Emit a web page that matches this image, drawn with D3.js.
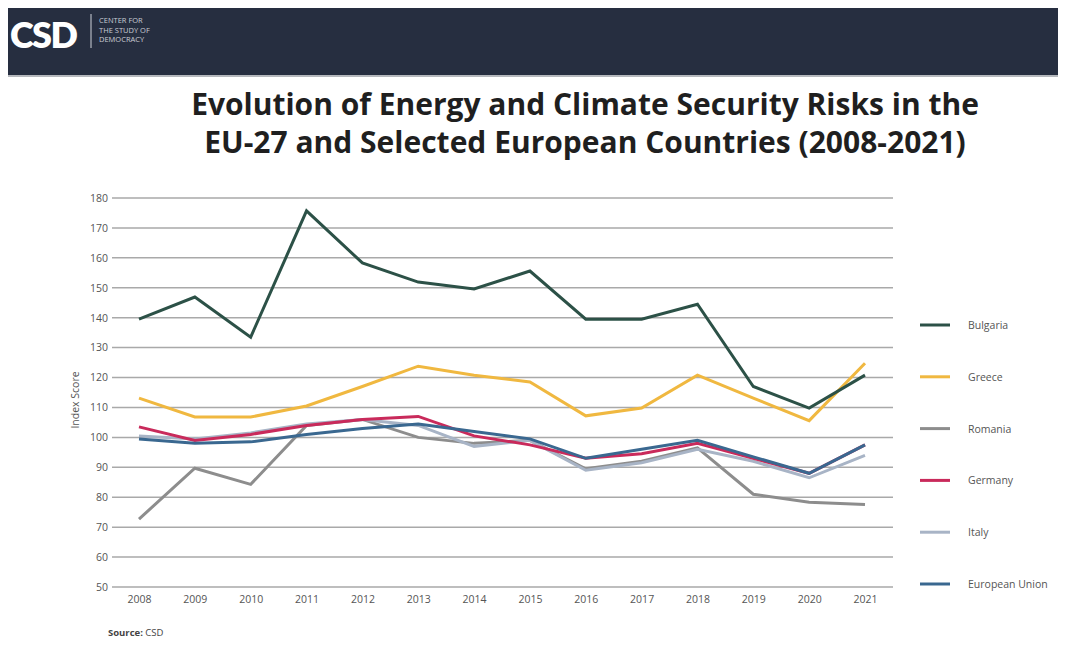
<!DOCTYPE html>
<html>
<head>
<meta charset="utf-8">
<script src="https://cdn.jsdelivr.net/npm/d3@7"></script>
<style>
  body { margin: 0; background: #fff; }
  svg { display: block; font-family: "Open Sans", sans-serif; }
</style>
</head>
<body>
<svg id="chart" width="1067" height="650"></svg>
<script>
// data
const years = [2008, 2009, 2010, 2011, 2012, 2013, 2014, 2015, 2016, 2017, 2018, 2019, 2020, 2021];
const yTicks = [50, 60, 70, 80, 90, 100, 110, 120, 130, 140, 150, 160, 170, 180];
const countries = ["Bulgaria", "Greece", "Romania", "Germany", "Italy", "European Union"];
const colors = ["#2c5147", "#f0b840", "#8d8d8d", "#c92a5b", "#a8b4c6", "#3a6890"];

const bulgaria = [139.5, 146.9, 133.5, 175.7, 158.3, 151.9, 149.6, 155.6, 139.5, 139.5, 144.5, 117, 109.8, 120.8];
const greece   = [113.1, 106.8, 106.8, 110.5, 117.0, 123.8, 120.8, 118.5, 107.2, 109.8, 120.8, 113.1, 105.6, 124.8];
const romania  = [72.7, 89.7, 84.3, 104, 106, 100, 98, 99, 89.5, 92, 96.5, 81, 78.3, 77.6];
const germany  = [103.5, 99, 101, 104, 106, 107, 100.5, 97.5, 93, 94.5, 98, 93, 88, 97.5];
const italy    = [100.5, 99.5, 101.5, 104.5, 106, 104, 97, 99, 89, 91.5, 96, 92, 86.5, 94];
const eu       = [99.5, 98, 98.5, 101, 103, 104.5, 102, 99.5, 93, 96, 99, 93.5, 88, 97.5];

const seriesValues = [bulgaria, greece, romania, germany, italy, eu];

const svg = d3.select("#chart");

// header band
svg.append("rect").attr("x", 8).attr("y", 8).attr("width", 1050).attr("height", 67).attr("fill", "#262e40");
svg.append("rect").attr("x", 8).attr("y", 75).attr("width", 1050).attr("height", 2).attr("fill", "#b5b8bd");
svg.append("text").attr("x", 10).attr("y", 48)
   .attr("fill", "#fff").attr("font-size", 36).attr("font-weight", 800)
   .attr("font-family", "Lato, sans-serif").attr("letter-spacing", -1.5).text("CSD");
svg.append("line").attr("x1", 91).attr("x2", 91).attr("y1", 14).attr("y2", 48)
   .attr("stroke", "#cfd3da").attr("stroke-width", 1);
["CENTER FOR", "THE STUDY OF", "DEMOCRACY"].forEach(function (t, i) {
  svg.append("text").attr("x", 99).attr("y", 23 + i * 9.5)
     .attr("fill", "#c8ccd4").attr("font-size", 7.5).text(t);
});

// title
const title = svg.append("text").attr("text-anchor", "middle")
   .attr("fill", "#1f1f1f").attr("font-size", 30).attr("font-weight", 700);
title.append("tspan").attr("x", 585).attr("y", 115).text("Evolution of Energy and Climate Security Risks in the");
title.append("tspan").attr("x", 585).attr("y", 153).text("EU-27 and Selected European Countries (2008-2021)");

// scales
const x = d3.scalePoint().domain(years).range([139, 865]);
const y = d3.scaleLinear().domain([50, 180]).range([587, 198]);

// gridlines
svg.append("g")
   .selectAll("line")
   .data(yTicks)
   .enter()
   .append("line")
   .attr("x1", 112).attr("x2", 893)
   .attr("y1", d => y(d)).attr("y2", d => y(d))
   .attr("stroke", "#a9a9a9").attr("stroke-width", 1.5);

// y axis
const yAxis = svg.append("g")
   .attr("transform", "translate(108,0)")
   .call(d3.axisLeft(y).tickValues(yTicks).tickSize(0).tickPadding(0));
yAxis.select(".domain").remove();
yAxis.selectAll("text").attr("fill", "#555").attr("font-size", 10.5).attr("font-family", "Open Sans, sans-serif");

// x axis
const xAxis = svg.append("g")
   .attr("transform", "translate(0,596)")
   .call(d3.axisBottom(x).tickSize(0).tickPadding(0).tickFormat(d3.format("d")));
xAxis.select(".domain").remove();
xAxis.selectAll("text").attr("fill", "#555").attr("font-size", 10.5).attr("font-family", "Open Sans, sans-serif");

svg.append("text")
   .attr("transform", "translate(79,400) rotate(-90)")
   .attr("text-anchor", "middle").attr("fill", "#555").attr("font-size", 10.5)
   .text("Index Score");

// lines
const line = d3.line().x((d, i) => x(years[i])).y(d => y(d));
const drawOrder = [2, 1, 0, 4, 3, 5];
svg.append("g")
   .selectAll("path")
   .data(drawOrder)
   .enter()
   .append("path")
   .attr("d", d => line(seriesValues[d]))
   .attr("fill", "none")
   .attr("stroke", d => colors[d])
   .attr("stroke-width", 3)
   .attr("stroke-linejoin", "miter");

// legend
const legend = svg.append("g")
   .selectAll("g")
   .data(countries)
   .enter()
   .append("g")
   .attr("transform", (d, i) => `translate(920,${325 + i * 51.8})`);
legend.append("line").attr("x1", 0).attr("x2", 30)
   .attr("stroke", (d, i) => colors[i]).attr("stroke-width", 3);
legend.append("text").attr("x", 48).attr("y", 4)
   .attr("fill", "#555").attr("font-size", 10.5).text(d => d);

// source
const src = svg.append("text").attr("x", 108).attr("y", 636).attr("fill", "#444").attr("font-size", 9.5);
src.append("tspan").attr("font-weight", 700).text("Source:");
src.append("tspan").text("  CSD");
</script>
</body>
</html>
